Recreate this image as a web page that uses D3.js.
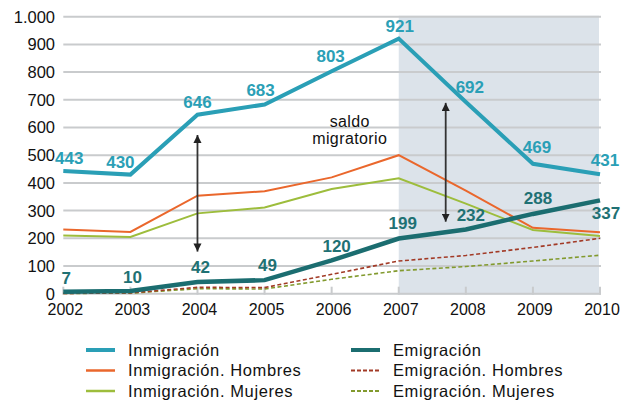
<!DOCTYPE html>
<html>
<head>
<meta charset="utf-8">
<script src="https://cdn.jsdelivr.net/npm/d3@7"></script>
<style>
  body { margin: 0; background: #fff; }
  svg { display: block; font-family: "Liberation Sans", Arial, sans-serif; }
</style>
</head>
<body>
<svg id="chart" width="630" height="401"></svg>
<script>
const years = [2002, 2003, 2004, 2005, 2006, 2007, 2008, 2009, 2010];
const inmigracion = [443, 430, 646, 683, 803, 921, 692, 469, 431];
const emigracion = [7, 10, 42, 49, 120, 199, 232, 288, 337];
const inmigracionHombres = [232, 223, 354, 370, 420, 500, 372, 238, 222];
const inmigracionMujeres = [210, 205, 290, 311, 378, 417, 325, 230, 208];
const emigracionHombres = [1, 3, 23, 22, 70, 118, 138, 167, 200];
const emigracionMujeres = [1, 2, 18, 17, 52, 83, 98, 118, 139];
const yTicks = [0, 100, 200, 300, 400, 500, 600, 700, 800, 900, 1000];
const shadedYears = [2007, 2010];

// label nudges (dx, dy) in px, relative to the point
const inmLabelShift = [[6, -13], [-10, -13], [0, -13], [-4, -15], [-1, -15], [1, -13], [4, -15], [4, -17], [5, -14]];
const emiLabelShift = [[3, -14], [2, -14], [3, -15], [3, -15], [5, -15], [4, -16], [5, -15], [5, -16], [6, 13]];

const series = [
  { name: "Inmigración", values: inmigracion, color: "#2a9fb6", width: 4, dash: null },
  { name: "Emigración", values: emigracion, color: "#1b6d70", width: 4.5, dash: null },
  { name: "Inmigración. Hombres", values: inmigracionHombres, color: "#ea672c", width: 2, dash: null },
  { name: "Emigración. Hombres", values: emigracionHombres, color: "#a23a26", width: 1.6, dash: "4,2.5" },
  { name: "Inmigración. Mujeres", values: inmigracionMujeres, color: "#9dbd3c", width: 2, dash: null },
  { name: "Emigración. Mujeres", values: emigracionMujeres, color: "#829a2e", width: 1.6, dash: "4,2.5" }
];

const svg = d3.select("#chart");

const x = d3.scaleLinear().domain([2002, 2010]).range([63.3, 600]);
const y = d3.scaleLinear().domain([0, 1000]).range([293.7, 16.7]);

// shaded forecast area
svg.append("rect")
  .attr("x", x(shadedYears[0]))
  .attr("y", y(1000) - 1)
  .attr("width", x(shadedYears[1]) - x(shadedYears[0]) - 1)
  .attr("height", y(0) - y(1000) + 2)
  .attr("fill", "#dce3ea");

// gridlines
svg.append("g")
  .selectAll("line")
  .data(yTicks)
  .enter()
  .append("line")
  .attr("x1", x(2002))
  .attr("x2", x(2010) + 1)
  .attr("y1", (d) => y(d))
  .attr("y2", (d) => y(d))
  .attr("stroke", "#c9cbcd")
  .attr("stroke-width", 2);

// y labels
svg.append("g")
  .selectAll("text")
  .data(yTicks)
  .enter()
  .append("text")
  .attr("x", 55)
  .attr("y", (d) => y(d))
  .attr("dy", "0.36em")
  .attr("text-anchor", "end")
  .style("font-size", "16.5px")
  .style("fill", "#111")
  .text((d) => d3.format(",")(d).replace(",", "."));

// x ticks + labels
const xAxis = svg.append("g");
xAxis.selectAll("line")
  .data(years)
  .enter()
  .append("line")
  .attr("x1", (d) => x(d))
  .attr("x2", (d) => x(d))
  .attr("y1", y(0) - 7)
  .attr("y2", y(0) + 1)
  .attr("stroke", "#c9cbcd")
  .attr("stroke-width", 2);
xAxis.selectAll("text")
  .data(years)
  .enter()
  .append("text")
  .attr("x", (d) => x(d) + 2)
  .attr("y", 315)
  .attr("text-anchor", "middle")
  .style("font-size", "16px")
  .style("fill", "#111")
  .text((d) => d);

// lines, thin ones first
const line = d3.line()
  .x((d, i) => x(years[i]))
  .y((d) => y(d));

const drawOrder = [5, 3, 4, 2, 1, 0];
drawOrder.forEach((k) => {
  const s = series[k];
  svg.append("path")
    .datum(s.values)
    .attr("d", line)
    .attr("fill", "none")
    .attr("stroke", s.color)
    .attr("stroke-width", s.width)
    .attr("stroke-dasharray", s.dash)
    .attr("stroke-linejoin", "miter");
});

// value labels
function addLabels(values, shifts, color) {
  svg.append("g")
    .selectAll("text")
    .data(values)
    .enter()
    .append("text")
    .attr("x", (d, i) => x(years[i]) + shifts[i][0])
    .attr("y", (d, i) => y(d) + shifts[i][1])
    .attr("dy", "0.36em")
    .attr("text-anchor", "middle")
    .style("font-size", "17px")
    .style("font-weight", "bold")
    .style("fill", color)
    .text((d) => d);
}
addLabels(inmigracion, inmLabelShift, "#2a9fb6");
addLabels(emigracion, emiLabelShift, "#1f7174");

// saldo migratorio arrows
const defs = svg.append("defs");
defs.append("marker")
  .attr("id", "head")
  .attr("viewBox", "0 0 10 10")
  .attr("refX", 10)
  .attr("refY", 5)
  .attr("markerWidth", 4.5)
  .attr("markerHeight", 4.5)
  .attr("markerUnits", "strokeWidth")
  .attr("orient", "auto-start-reverse")
  .append("path")
  .attr("d", "M0,0 L10,5 L0,10 z")
  .attr("fill", "#222");

const arrows = [
  { year: 2004, top: 573, bottom: 152 },
  { year: 2007.7, top: 689, bottom: 260 }
];
svg.append("g")
  .selectAll("line")
  .data(arrows)
  .enter()
  .append("line")
  .attr("x1", (d) => x(d.year))
  .attr("x2", (d) => x(d.year))
  .attr("y1", (d) => y(d.top))
  .attr("y2", (d) => y(d.bottom))
  .attr("stroke", "#333")
  .attr("stroke-width", 1.8)
  .attr("marker-start", "url(#head)")
  .attr("marker-end", "url(#head)");

["saldo", "migratorio"].forEach((t, i) => {
  svg.append("text")
    .attr("x", x(2006.27))
    .attr("y", 127 + i * 16.5)
    .attr("text-anchor", "middle")
    .style("font-size", "16px")
    .style("letter-spacing", "0.4px")
    .style("fill", "#111")
    .text(t);
});

// legend
const legend = svg.append("g");
series.forEach((s, i) => {
  const col = i % 2;
  const row = Math.floor(i / 2);
  const lx = col === 0 ? 86 : 351;
  const ly = 350 + row * 20.5;
  legend.append("line")
    .attr("x1", lx)
    .attr("x2", lx + 29)
    .attr("y1", ly)
    .attr("y2", ly)
    .attr("stroke", s.color)
    .attr("stroke-width", s.dash ? 1.8 : (s.width > 3 ? 4 : 2.5))
    .attr("stroke-dasharray", s.dash ? "4,2" : null);
  legend.append("text")
    .attr("x", lx + 42)
    .attr("y", ly)
    .attr("dy", "0.34em")
    .style("font-size", "16.5px")
    .style("letter-spacing", "0.6px")
    .style("fill", "#111")
    .text(s.name);
});
</script>
</body>
</html>
